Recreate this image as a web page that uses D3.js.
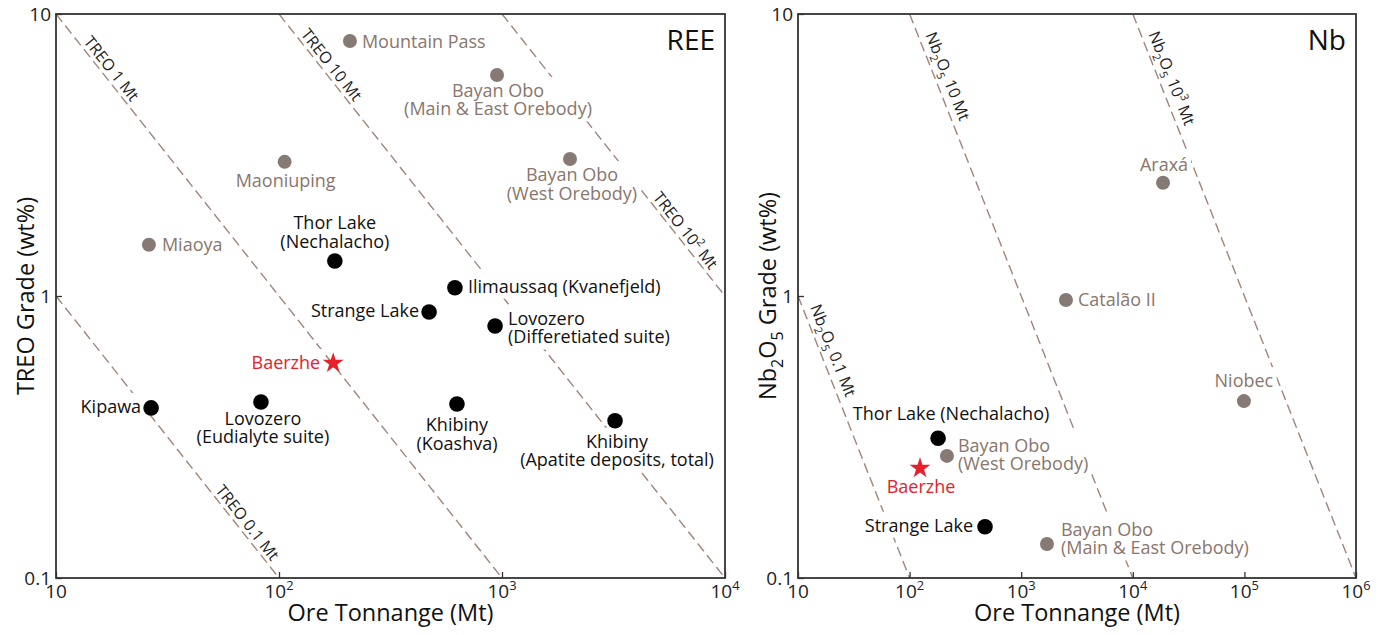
<!DOCTYPE html>
<meta charset="utf-8">
<script src="https://d3js.org/d3.v7.min.js"></script>
<style>
body { margin: 0; background: #fff; }
text { font-family: "Open Sans", sans-serif; }
</style>
<div id="chart"></div>
<script>

// ---------------- data ----------------
// REE panel
var reeNames = ["Mountain Pass", "Bayan Obo\n(Main & East Orebody)", "Maoniuping", "Bayan Obo\n(West Orebody)",
  "Miaoya", "Thor Lake\n(Nechalacho)", "Ilimaussaq (Kvanefjeld)", "Strange Lake",
  "Lovozero\n(Differetiated suite)", "Baerzhe", "Kipawa", "Lovozero\n(Eudialyte suite)",
  "Khibiny\n(Koashva)", "Khibiny\n(Apatite deposits, total)"];
var reeTonnage = [208, 950, 106, 2018, 26.1, 178, 615, 471, 931, 175, 26.7, 83, 628, 3213];
var reeGrade = [8.02, 6.08, 2.99, 3.06, 1.52, 1.33, 1.07, 0.877, 0.783, 0.578, 0.401, 0.421, 0.414, 0.361];
var reeGroup = ["grey", "grey", "grey", "grey", "grey", "black", "black", "black",
  "black", "star", "black", "black", "black", "black"];

// Nb panel
var nbNames = ["Araxá", "Catalão II", "Niobec", "Thor Lake (Nechalacho)", "Bayan Obo\n(West Orebody)",
  "Baerzhe", "Strange Lake", "Bayan Obo\n(Main & East Orebody)"];
var nbTonnage = [18660, 2518, 99000, 180, 216, 124, 474, 1702];
var nbGrade = [2.52, 0.968, 0.424, 0.313, 0.271, 0.245, 0.152, 0.132];
var nbGroup = ["grey", "grey", "grey", "black", "grey", "star", "black", "grey"];

// contained metal contours (Mt)
var treoContours = [0.1, 1, 10, 100];
var treoContourLabels = ["TREO 0.1 Mt", "TREO 1 Mt", "TREO 10 Mt", "TREO 10^2 Mt"];
var nbContours = [0.1, 10, 1000];
var nbContourLabels = ["Nb_2O_5 0.1 Mt", "Nb_2O_5 10 Mt", "Nb_2O_5 10^3 Mt"];

// ticks
var reeXTicks = [10, 100, 1000, 10000];
var reeXTickLabels = ["10", "10^2", "10^3", "10^4"];
var nbXTicks = [10, 100, 1000, 10000, 100000, 1000000];
var nbXTickLabels = ["10", "10^2", "10^3", "10^4", "10^5", "10^6"];
var yTicks = [0.1, 1, 10];
var yTickLabels = ["0.1", "1", "10"];

// label placement: [anchor, dx, dy]
var reeLabelPos = [["start", 12, 7], ["middle", 1, 22], ["middle", 1, 25], ["middle", 2, 22],
  ["start", 13, 6], ["middle", 0, -32], ["start", 13, 5], ["end", -10, 5],
  ["start", 13, -1], ["end", -13, 6], ["end", -10, 5], ["middle", 2, 23],
  ["middle", 0, 27], ["middle", 2, 27]];
var nbLabelPos = [["middle", 1, -12], ["start", 12, 6], ["middle", 0, -14], ["middle", 13, -18],
  ["start", 11, -4], ["middle", 1, 25], ["end", -12, 5], ["start", 14, -8]];
// tonnage on each contour where its label sits
var treoContourLabelAt = [66.8, 16.4, 159, 6150];
var nbContourLabelAt = [16.2, 172.6, 17540];

var colors = { grey: "#8a766d", black: "#111", star: "#e8202a" };
var dotColors = { grey: "#877a75", black: "#000", star: "#e8202a" };

var svg = d3.select("#chart").append("svg")
  .attr("width", 1387)
  .attr("height", 635);

// text with _x subscripts and ^x superscripts
function rich(sel, str, fs) {
  var parts = str.match(/[_^].|[^_^]+/g);
  var shift = 0;
  parts.forEach(function(p) {
    var ts = sel.append("tspan");
    var target = 0;
    if (p[0] === "_") { target = fs * 0.28; ts.attr("font-size", fs * 0.68); p = p.slice(1); }
    else if (p[0] === "^") { target = -fs * 0.42; ts.attr("font-size", fs * 0.68); p = p.slice(1); }
    if (target - shift !== 0) ts.attr("dy", target - shift);
    ts.text(p);
    shift = target;
  });
}

function drawPanel(p) {
  var top = 14, bottom = 578;
  var x = d3.scaleLog().domain(p.xDomain).range([p.left, p.right]);
  var y = d3.scaleLog().domain([0.1, 10]).range([bottom, top]);
  var g = svg.append("g");

  // ---- dashed contours of contained metal ----
  var lineG = g.append("g");
  p.contours.forEach(function(m, i) {
    var t0 = Math.max(p.xDomain[0], m * 100 / 10);
    var t1 = Math.min(p.xDomain[1], m * 100 / 0.1);
    lineG.append("line")
      .attr("x1", x(t0)).attr("y1", y(100 * m / t0))
      .attr("x2", x(t1)).attr("y2", y(100 * m / t1))
      .attr("stroke", "#a0857a")
      .attr("stroke-width", 1.4)
      .attr("stroke-dasharray", "10,5");
  });

  // ---- point labels (white boxes break the dashed lines) ----
  var bgG = g.append("g");
  var labG = g.append("g");
  p.names.forEach(function(name, i) {
    var px = x(p.tonnage[i]), py = y(p.grade[i]);
    var pos = p.labelPos[i];
    var t = labG.append("text")
      .attr("text-anchor", pos[0])
      .style("font-size", "18px")
      .attr("fill", colors[p.group[i]]);
    name.split("\n").forEach(function(line, k) {
      t.append("tspan")
        .attr("x", px + pos[1])
        .attr("y", py + pos[2] + k * 18.5)
        .text(line);
    });
    var bb = t.node().getBBox();
    bgG.append("rect")
      .attr("x", bb.x - 3).attr("y", bb.y - 1)
      .attr("width", bb.width + 6).attr("height", bb.height + 2)
      .attr("fill", "#fff");
  });

  // ---- contour labels ----
  p.contours.forEach(function(m, i) {
    var tA = p.xDomain[0] * 10, tB = tA * 10;
    var ang = Math.atan2(y(100 * m / tB) - y(100 * m / tA), x(tB) - x(tA));
    var t = p.contourLabelAt[i];
    var cx = x(t), cy = y(100 * m / t);
    var off = p.contourOffset;
    cx += Math.sin(ang) * off;
    cy -= Math.cos(ang) * off;
    var lab = g.append("text")
      .attr("transform", "translate(" + cx + "," + cy + ") rotate(" + (ang * 180 / Math.PI) + ")")
      .attr("text-anchor", "middle")
      .style("font-size", "16px")
      .attr("fill", "#222");
    rich(lab, p.contourLabels[i], 16);
  });

  // ---- points ----
  var ptG = g.append("g");
  p.names.forEach(function(name, i) {
    var px = x(p.tonnage[i]), py = y(p.grade[i]);
    if (p.group[i] === "star") {
      ptG.append("path")
        .attr("d", d3.symbol().type(d3.symbolStar).size(135)())
        .attr("transform", "translate(" + px + "," + py + ")")
        .attr("fill", dotColors.star);
    } else {
      ptG.append("circle")
        .attr("cx", px).attr("cy", py)
        .attr("r", p.group[i] === "grey" ? 7 : 7.8)
        .attr("fill", dotColors[p.group[i]]);
    }
  });

  // ---- axes (inward ticks) ----
  var xAxis = g.append("g")
    .attr("transform", "translate(0," + bottom + ")")
    .call(d3.axisBottom(x).tickValues(p.xTicks).tickSizeInner(-6).tickSizeOuter(0).tickFormat(""));
  var yAxis = g.append("g")
    .attr("transform", "translate(" + p.left + ",0)")
    .call(d3.axisLeft(y).tickValues(yTicks).tickSizeInner(-6).tickSizeOuter(0).tickFormat(""));
  [xAxis, yAxis].forEach(function(a) {
    a.select(".domain").remove();
    a.selectAll("line").attr("stroke", "#333").attr("stroke-width", 1.3);
  });

  p.xTicks.forEach(function(v, i) {
    var t = g.append("text")
      .attr("x", x(v)).attr("y", 598)
      .attr("text-anchor", "middle")
      .style("font-size", "19px")
      .attr("fill", "#222");
    rich(t, p.xTickLabels[i], 19);
  });
  yTicks.forEach(function(v, i) {
    g.append("text")
      .attr("x", p.left - 5).attr("y", y(v) + 6.5)
      .attr("text-anchor", "end")
      .style("font-size", "19px")
      .attr("fill", "#222")
      .text(yTickLabels[i]);
  });

  // frame
  g.append("rect")
    .attr("x", p.left).attr("y", top)
    .attr("width", p.right - p.left).attr("height", bottom - top)
    .attr("fill", "none")
    .attr("stroke", "#333")
    .attr("stroke-width", 1.8);

  // titles
  g.append("text")
    .attr("x", p.right - 10).attr("y", 50)
    .attr("text-anchor", "end")
    .style("font-size", "28px")
    .attr("fill", "#111")
    .text(p.name);
  g.append("text")
    .attr("x", (p.left + p.right) / 2).attr("y", 621)
    .attr("text-anchor", "middle")
    .style("font-size", "23.5px")
    .attr("fill", "#111")
    .text("Ore Tonnange (Mt)");
  var yt = g.append("text")
    .attr("transform", "translate(" + (p.left - 22) + "," + ((top + bottom) / 2) + ") rotate(-90)")
    .attr("text-anchor", "middle")
    .style("font-size", "23.5px")
    .attr("fill", "#111");
  rich(yt, p.yTitle, 23.5);
}

drawPanel({
  name: "REE", left: 56, right: 725, xDomain: [10, 10000],
  names: reeNames, tonnage: reeTonnage, grade: reeGrade, group: reeGroup, labelPos: reeLabelPos,
  contours: treoContours, contourLabels: treoContourLabels, contourLabelAt: treoContourLabelAt, contourOffset: 4,
  xTicks: reeXTicks, xTickLabels: reeXTickLabels, yTitle: "TREO Grade (wt%)"
});

drawPanel({
  name: "Nb", left: 798, right: 1356, xDomain: [10, 1000000],
  names: nbNames, tonnage: nbTonnage, grade: nbGrade, group: nbGroup, labelPos: nbLabelPos,
  contours: nbContours, contourLabels: nbContourLabels, contourLabelAt: nbContourLabelAt, contourOffset: 7,
  xTicks: nbXTicks, xTickLabels: nbXTickLabels, yTitle: "Nb_2O_5 Grade (wt%)"
});
</script>
